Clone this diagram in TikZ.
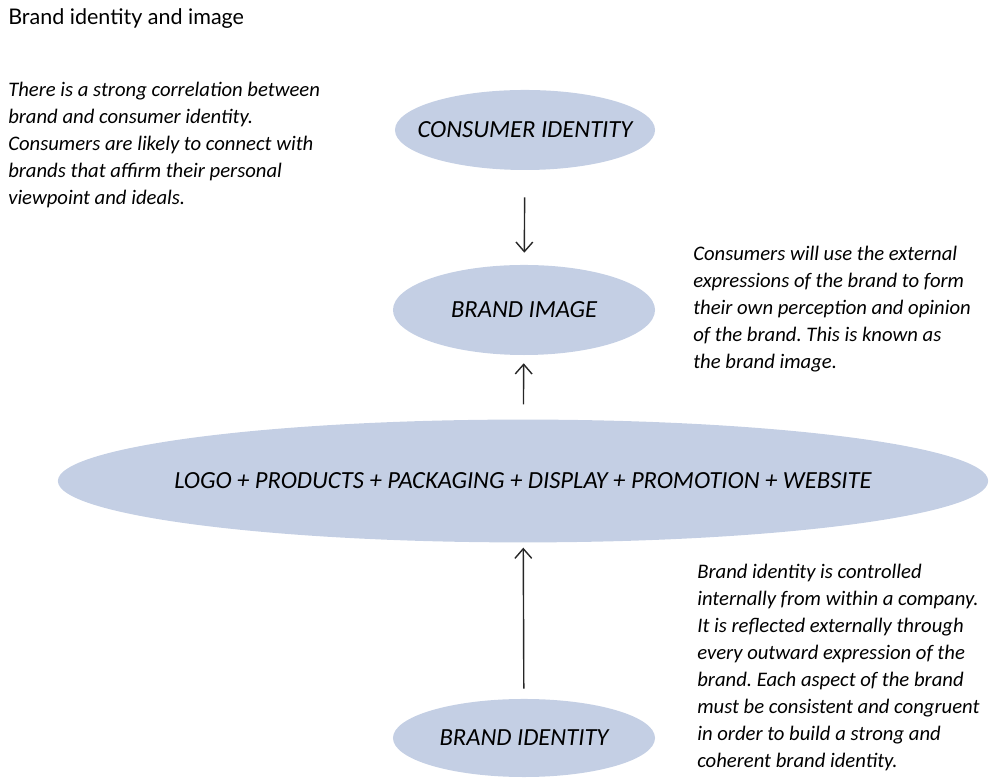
\documentclass[tikz,border=0pt]{standalone}
\usepackage{fontspec}
\setmainfont{Carlito}
\newfontfamily\titlefont{Lato}
\usetikzlibrary{shapes, arrows.meta, positioning}

\definecolor{ovalblue}{RGB}{196,207,228}
\newcommand{\ovaltext}[1]{\makebox[0pt]{#1}}
\frenchspacing

\begin{document}
\begin{tikzpicture}[
    x=0.025cm, y=0.025cm,
    oval/.style={ellipse, fill=ovalblue, inner sep=0pt, font=\fontsize{17.5}{19}\selectfont\itshape},
    note/.style={anchor=north west, inner sep=0pt, align=left, font=\fontsize{14.7}{19.2}\selectfont\itshape},
    arrow/.style={-{Straight Barb[length=2.4mm, width=4.2mm]}, line width=1pt, black!85},
]
\useasboundingbox (0,0) rectangle (998,780);

% Title
\node[anchor=west, inner sep=0pt, font=\titlefont\fontsize{15.3}{17}\selectfont] (title) at (8,761) {Brand identity and image};

% Ovals
\node[oval, minimum width=6.5cm, minimum height=2cm] (consumer) at (525,650) {\ovaltext{CONSUMER IDENTITY}};
\node[oval, minimum width=6.55cm, minimum height=2.25cm] (image) at (524,470) {\ovaltext{BRAND IMAGE}};
\node[oval, minimum width=23.25cm, minimum height=3.07cm] (express) at (523,299) {\ovaltext{LOGO + PRODUCTS + PACKAGING + DISPLAY + PROMOTION + WEBSITE}};
\node[oval, minimum width=6.55cm, minimum height=1.95cm] (identity) at (524,42) {\ovaltext{BRAND IDENTITY}};

% Notes
\node[note] (leftnote) at (8,698) {There is a strong correlation between\\brand and consumer identity.\\Consumers are likely to connect with\\brands that affirm their personal\\viewpoint and ideals.};
\node[note] (imagenote) at (693,534) {Consumers will use the external\\expressions of the brand to form\\their own perception and opinion\\of the brand. This is known as\\the brand image.};
\node[note] (identitynote) at (697,216) {Brand identity is controlled\\internally from within a company.\\It is reflected externally through\\every outward expression of the\\brand. Each aspect of the brand\\must be consistent and congruent\\in order to build a strong and\\coherent brand identity.};

% Arrows
\draw[arrow, shorten <=0.675cm, shorten >=0.3cm] (consumer) -- (image);
\draw[arrow, shorten <=0.375cm, shorten >=0.2cm] (express) -- (image);
\draw[arrow, shorten <=0.25cm, shorten >=0.125cm] (identity) -- (express);

\end{tikzpicture}
\end{document}
